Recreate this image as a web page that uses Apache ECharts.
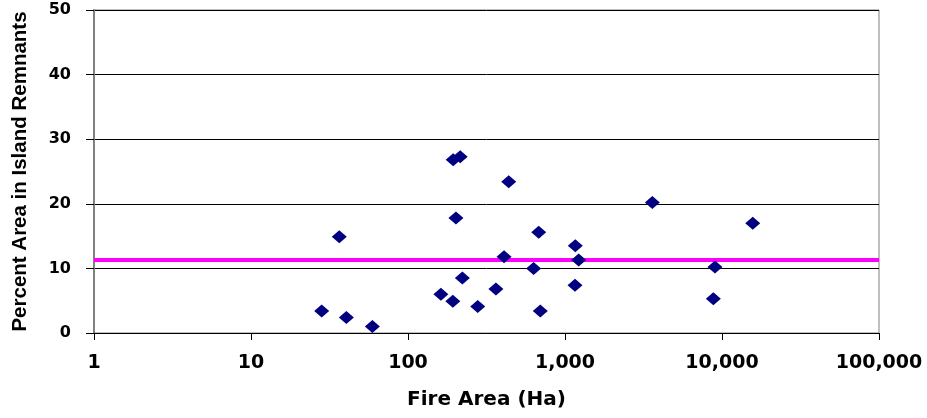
<!DOCTYPE html>
<html>
<head>
<meta charset="utf-8">
<script src="https://cdn.jsdelivr.net/npm/echarts@6/dist/echarts.min.js"></script>
<style>
  html, body { margin: 0; padding: 0; background: #fff; }
  #chart { width: 927px; height: 418px; }
</style>
</head>
<body>
<div id="chart"></div>
<script>
// Fire size (ha) and share of burned perimeter left as unburned islands (%)
const fireArea = [28.2, 36.5, 40.5, 59.3, 162, 193, 194, 215, 202, 222, 278, 363,
                  409, 438, 631, 680, 696, 1163, 1222, 1158, 3600, 15700, 9020, 8810];
const islandPct = [3.4, 14.9, 2.4, 1.0, 6.0, 4.9, 26.8, 27.3, 17.8, 8.5, 4.1, 6.8,
                   11.8, 23.4, 10.0, 15.6, 3.4, 13.5, 11.3, 7.4, 20.2, 17.0, 10.2, 5.3];
// Average island share, drawn across the full range of fire sizes
const meanLineX = [1, 100000];
const meanPct = 11.3;
const yTicks = [0, 10, 20, 30, 40, 50];

const points = fireArea.map((a, i) => [a, islandPct[i]]);
const meanLine = meanLineX.map(x => [x, meanPct]);

const chart = echarts.init(document.getElementById('chart'), null, { renderer: 'canvas' });
chart.setOption({
  animation: false,
  backgroundColor: '#ffffff',
  grid: {
    left: 94, right: 48, top: 10, bottom: 85,
    show: true, borderColor: '#808080', borderWidth: 1, backgroundColor: 'transparent'
  },
  xAxis: {
    type: 'log', logBase: 10, min: 1, max: 100000,
    name: 'Fire Area (Ha)', nameLocation: 'middle', nameGap: 57,
    nameTextStyle: { fontFamily: 'DejaVu Sans', fontWeight: 'bold', fontSize: 20, color: '#000' },
    axisLine: { show: true, onZero: false, lineStyle: { color: '#000', width: 1 } },
    axisTick: { show: true, inside: false, length: 7, lineStyle: { color: '#000' } },
    minorTick: { show: false },
    splitLine: { show: false },
    axisLabel: {
      margin: 21, color: '#000', fontFamily: 'DejaVu Sans', fontWeight: 'bold', fontSize: 19,
      formatter: v => Math.round(v).toLocaleString('en-US')
    }
  },
  yAxis: {
    type: 'value', min: yTicks[0], max: yTicks[yTicks.length - 1], interval: 10,
    name: 'Percent Area in Island Remnants', nameLocation: 'middle', nameGap: 63,
    nameTextStyle: { fontFamily: 'Liberation Sans', fontWeight: 'bold', fontSize: 20.5, color: '#000' },
    axisLine: { show: true, lineStyle: { color: '#808080', width: 2 } },
    axisTick: { show: true, inside: false, length: 8, lineStyle: { color: '#000' } },
    splitLine: { show: true, lineStyle: { color: '#000', width: 1 } },
    axisLabel: {
      margin: 23, color: '#000', fontFamily: 'DejaVu Sans', fontWeight: 'bold', fontSize: 16
    }
  },
  series: [
    {
      type: 'line', data: meanLine, symbol: 'none', z: 2,
      lineStyle: { color: '#ff00ff', width: 4 }, silent: true
    },
    {
      type: 'scatter', data: points, symbol: 'diamond', symbolSize: [15, 13], z: 3,
      itemStyle: { color: '#000080', opacity: 1 }
    }
  ]
});
</script>
</body>
</html>
